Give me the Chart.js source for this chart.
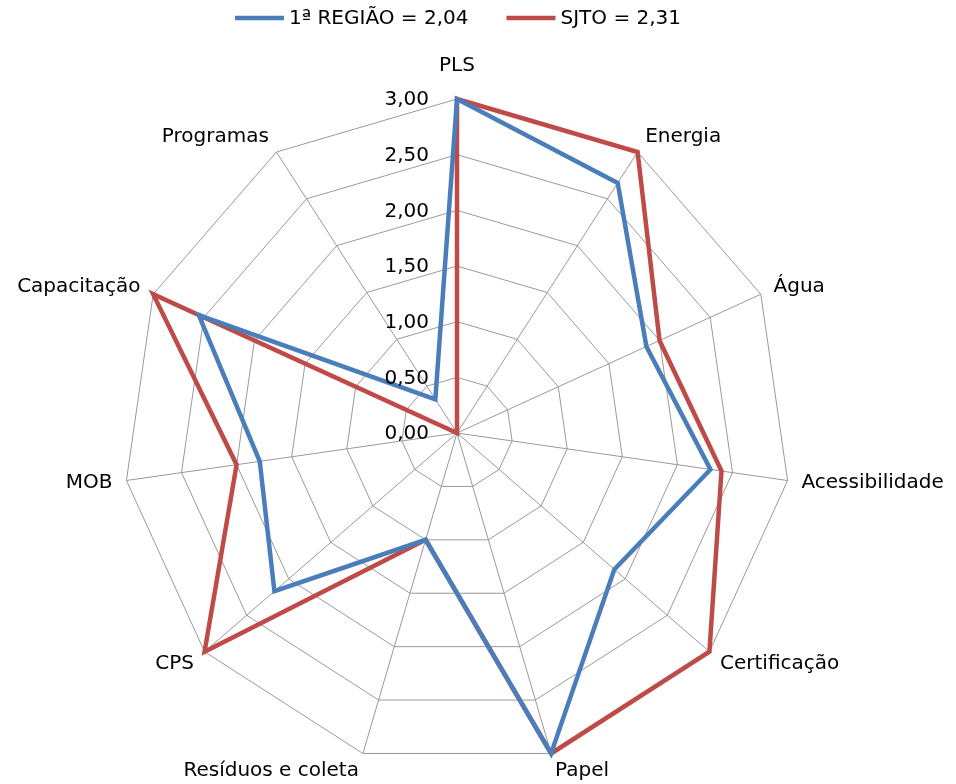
<!DOCTYPE html>
<html>
<head>
<meta charset="utf-8">
<script src="https://cdn.jsdelivr.net/npm/chart.js@4"></script>
<style>
  html, body { margin: 0; padding: 0; background: #fff; }
  #wrap { width: 956px; height: 784px; }
</style>
</head>
<body>
<div id="wrap"><canvas id="myChart" width="956" height="784"></canvas></div>
<script>
// categorias e valores
const categorias = ['PLS', 'Energia', 'Água', 'Acessibilidade', 'Certificação', 'Papel',
  'Resíduos e coleta', 'CPS', 'MOB', 'Capacitação', 'Programas'];
const regiao1 = [3.00, 2.67, 1.87, 2.30, 1.87, 3.00, 1.00, 2.17, 1.79, 2.55, 0.36];
const sjto = [3.00, 3.00, 2.00, 2.40, 3.00, 3.00, 1.00, 3.00, 2.00, 3.00, 0.00];
const rotulos = ['1ª REGIÃO = 2,04', 'SJTO = 2,31'];
const cores = ['#4A7EBB', '#BE4B48'];
const ticks = [0, 0.5, 1, 1.5, 2, 2.5, 3];

const fonte = "'DejaVu Sans', sans-serif";

// rotulos do eixo, nomes das categorias e legenda
const textos = {
  id: 'textos',
  afterDraw(chart) {
    const r = chart.scales.r;
    const ctx = chart.ctx;
    ctx.save();
    ctx.font = '20px ' + fonte;
    ctx.fillStyle = '#000';

    // valores do eixo a esquerda da linha vertical
    ctx.textAlign = 'right';
    ctx.textBaseline = 'middle';
    ticks.forEach(function (v) {
      const d = r.getDistanceFromCenterForValue(v);
      ctx.fillText(v.toFixed(2).replace('.', ','), r.xCenter - 28, r.yCenter - d + 1);
    });

    // nomes das categorias
    categorias.forEach(function (nome, i) {
      const p = r.getPointPosition(i, r.drawingArea + 14);
      const ang = (2 * Math.PI / categorias.length) * i;
      const s = Math.sin(ang), c = Math.cos(ang);
      let y;
      if (Math.abs(s) < 0.2) {
        ctx.textAlign = 'center';
        y = p.y - c * 19;
      } else {
        ctx.textAlign = s > 0 ? 'left' : 'right';
        y = p.y - c * 4;
      }
      ctx.fillText(nome, p.x, y);
    });

    // legenda
    const larguraLinha = 49, espaco = 5, entre = 38;
    const larguras = rotulos.map(t => ctx.measureText(t).width);
    let total = 0;
    larguras.forEach(w => total += larguraLinha + espaco + w);
    total += entre * (rotulos.length - 1);
    let x = r.xCenter + 1 - total / 2;
    const yl = 18;
    ctx.textAlign = 'left';
    rotulos.forEach(function (t, i) {
      ctx.strokeStyle = cores[i];
      ctx.lineWidth = 4.5;
      ctx.beginPath();
      ctx.moveTo(x, yl);
      ctx.lineTo(x + larguraLinha, yl);
      ctx.stroke();
      ctx.fillText(t, x + larguraLinha + espaco, yl + 1);
      x += larguraLinha + espaco + larguras[i] + entre;
    });
    ctx.restore();
  }
};

const ctx = document.getElementById('myChart');
const myChart = new Chart(ctx, {
  type: 'radar',
  data: {
    labels: categorias,
    datasets: [
      { label: rotulos[0], data: regiao1, borderColor: cores[0], backgroundColor: cores[0] },
      { label: rotulos[1], data: sjto, borderColor: cores[1], backgroundColor: cores[1] }
    ]
  },
  options: {
    responsive: false,
    animation: false,
    layout: { padding: { top: 99, bottom: 17, left: 123, right: 165 } },
    elements: {
      line: { borderWidth: 4.5, tension: 0, fill: false, borderJoinStyle: 'miter' },
      point: { radius: 0, hoverRadius: 0 }
    },
    plugins: {
      tooltip: { enabled: false },
      legend: { display: false }
    },
    scales: {
      r: {
        min: 0,
        max: 3,
        startAngle: 0,
        ticks: { stepSize: 0.5, display: false },
        grid: { color: '#999999', lineWidth: 1 },
        angleLines: { color: '#999999', lineWidth: 1 },
        pointLabels: { display: false }
      }
    }
  },
  plugins: [textos]
});
</script>
</body>
</html>
